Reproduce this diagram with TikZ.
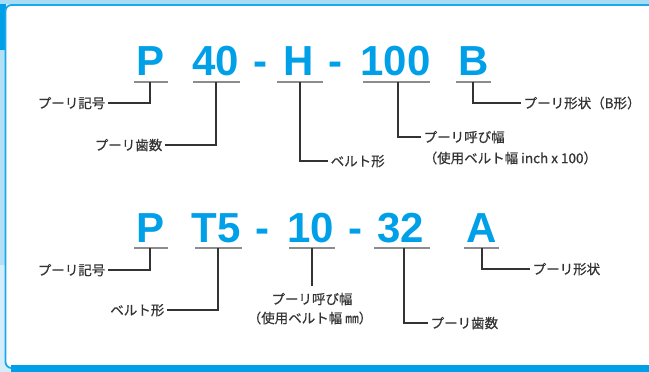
\documentclass[tikz,border=0pt]{standalone}
\usepackage{fontspec}
\newfontfamily\jpfont[FakeBold=0.5,Kerning=Off]{Noto Sans CJK JP}
\newfontfamily\codefont{Liberation Sans}
\newcommand\lpar{\makebox[1em][r]{（}}
\newcommand\rpar{\makebox[1em][l]{）}}
\definecolor{kblue}{HTML}{00A0E9}
\definecolor{kborder}{HTML}{1AA8EA}
\definecolor{paleblue}{HTML}{D6EEFB}
\definecolor{midblue}{HTML}{B3E0F7}
\definecolor{topblue}{HTML}{A8DCF5}
\definecolor{labelgray}{HTML}{333333}
\definecolor{leadgray}{HTML}{333333}
\definecolor{ulgray}{HTML}{8C8C8C}
\begin{document}
\begin{tikzpicture}[x=1pt,y=-1pt,
  code/.style={font=\codefont\bfseries\fontsize{42}{42}\selectfont, text=kblue, inner sep=0pt, anchor=base},
  lbl/.style={font=\jpfont\fontsize{13.5}{14}\selectfont, text=labelgray, inner xsep=2.5pt, inner ysep=0pt, text height=11.9pt, text depth=1.6pt},
  uline/.style={draw=ulgray, line width=1.5pt},
  leader/.style={draw=leadgray, line width=1.1pt},
]
\useasboundingbox (0,0) rectangle (649,372);
% frame
\fill[paleblue] (0,0) rectangle (649,372);
\fill[midblue] (0,50) rectangle (5,265);
\fill[topblue] (0,0) rectangle (649,4);
\fill[kblue] (0,3.5) rectangle (5.5,50);
\draw[fill=white, draw=kborder, line width=1.8pt, rounded corners=6pt] (5.5,5) rectangle (665,368);
\fill[kblue] (11,364.5) rectangle (649,372);

% ---------- top row ----------
\node[code] (tP)   at (151,75)   {P};
\node[code] (t40)  at (215.5,75) {40};
\node[code] (th1)  at (260.5,75) {-};
\node[code] (tH)   at (299,75)   {H};
\node[code] (th2)  at (335.5,75) {-};
\node[code] (t100) at (395.5,75) {100};
\node[code] (tB)   at (473.5,75) {B};

\coordinate (uPa) at (134,82);   \coordinate (uPb) at (168,82);   \coordinate (mP) at (150,82);
\coordinate (u40a) at (193,82);  \coordinate (u40b) at (240,82);  \coordinate (m40) at (216,82);
\coordinate (uHa) at (277,82);   \coordinate (uHb) at (323,82);   \coordinate (mH) at (300,82);
\coordinate (u100a) at (363,82); \coordinate (u100b) at (430,82); \coordinate (m100) at (398,82);
\coordinate (uBa) at (456,82);   \coordinate (uBb) at (491,82);   \coordinate (mB) at (473,82);
\foreach \n in {P,40,H,100,B} { \draw[uline] (u\n a) -- (u\n b); }

\node[lbl, anchor=east] (lP)   at (108,103) {プーリ記号};
\node[lbl, anchor=east] (l40)  at (165,145) {プーリ歯数};
\node[lbl, anchor=west] (lH)   at (328,161) {ベルト形};
\node[lbl, anchor=west] (l100a) at (421,137) {プーリ呼び幅};
\node[lbl, anchor=west] (l100b) at (421,158) {\lpar 使用ベルト幅 inch x 100\rpar};
\node[lbl, anchor=west] (lB)   at (521,103) {プーリ形状\lpar B形\rpar};

\draw[leader] (mP) |- (lP.east);
\draw[leader] (m40) |- (l40.east);
\draw[leader] (mH) |- (lH.west);
\draw[leader] (m100) |- (l100a.west);
\draw[leader] (mB) |- (lB.west);

% ---------- bottom row ----------
\node[code] (bP)  at (151,242)   {P};
\node[code] (bT5) at (216.5,242) {T5};
\node[code] (bh1) at (262.5,242) {-};
\node[code] (b10) at (310.5,242) {10};
\node[code] (bh2) at (355,242)   {-};
\node[code] (b32) at (401,242)   {32};
\node[code] (bA)  at (482,242)   {A};

\coordinate (vPa) at (134,248);  \coordinate (vPb) at (168,248);  \coordinate (nP) at (150,248);
\coordinate (vT5a) at (195,248); \coordinate (vT5b) at (242,248); \coordinate (nT5) at (218,248);
\coordinate (v10a) at (289,248); \coordinate (v10b) at (335,248); \coordinate (n10) at (312,248);
\coordinate (v32a) at (374,248); \coordinate (v32b) at (430,248); \coordinate (n32) at (404,248);
\coordinate (vAa) at (464,248);  \coordinate (vAb) at (499,248);  \coordinate (nA) at (482,248);
\foreach \n in {P,T5,10,32,A} { \draw[uline] (v\n a) -- (v\n b); }

\node[lbl, anchor=east] (mlP)  at (108,270) {プーリ記号};
\node[lbl, anchor=east] (mlT5) at (167,310) {ベルト形};
\node[lbl, inner ysep=6.25pt] (ml10a) at (312,299) {プーリ呼び幅};
\node[lbl] (ml10b) at (310,318) {\lpar 使用ベルト幅 ㎜\rpar};
\node[lbl, anchor=west] (ml32) at (428,323) {プーリ歯数};
\node[lbl, anchor=west] (mlA)  at (530,269) {プーリ形状};

\draw[leader] (nP) |- (mlP.east);
\draw[leader] (nT5) |- (mlT5.east);
\draw[leader] (n10) -- (ml10a.north);
\draw[leader] (n32) |- (ml32.west);
\draw[leader] (nA) |- (mlA.west);
\end{tikzpicture}
\end{document}
